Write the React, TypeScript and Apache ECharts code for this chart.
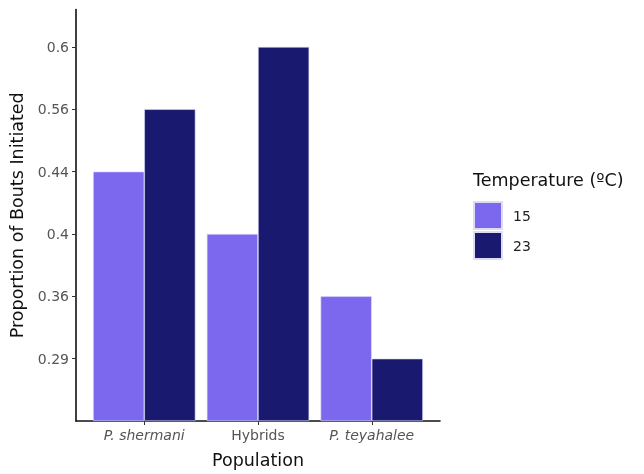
import React, { useEffect, useRef } from "react";
import * as echarts from "echarts";

const populations = ["P. shermani", "Hybrids", "P. teyahalee"];
const italicPop = [true, false, true];
const yLevels = [0.29, 0.36, 0.4, 0.44, 0.56, 0.6];
const temps = ["15", "23"];
const values15 = [0.44, 0.4, 0.36];
const values23 = [0.56, 0.6, 0.29];
const colors = ["#7B68EE", "#191970"];

const FONT = "DejaVu Sans";

export default function App() {
  const ref = useRef<HTMLDivElement>(null);
  useEffect(() => {
    if (!ref.current) return;
    const chart = echarts.init(ref.current, null, { renderer: "svg" });
    const toData = (vals: number[]) =>
      vals.map((v, i) => [i + 1, yLevels.indexOf(v) + 1]);
    const seriesVals = [values15, values23];
    chart.setOption({
      animation: false,
      textStyle: { fontFamily: FONT },
      title: {
        text: "Temperature (ºC)",
        left: 473,
        top: 171,
        padding: 0,
        textStyle: { fontSize: 17.5, fontWeight: "normal", color: "#111", fontFamily: FONT },
      },
      legend: {
        orient: "vertical",
        left: 473,
        top: 201,
        padding: 0,
        itemWidth: 28,
        itemHeight: 27,
        itemGap: 1,
        icon: "rect",
        data: temps,
        textStyle: { fontSize: 14, color: "#222", fontFamily: FONT, padding: [0, 0, 0, 6] },
      },
      grid: { left: 75, right: 204, top: 9.5, bottom: 52, containLabel: false },
      xAxis: {
        type: "value",
        min: 0.4,
        max: 3.6,
        name: "Population",
        nameLocation: "middle",
        nameGap: 30,
        nameTextStyle: { fontSize: 17.5, color: "#111", fontFamily: FONT },
        splitLine: { show: false },
        axisLine: { show: true, lineStyle: { color: "#111", width: 1.6 } },
        axisTick: { show: true, length: 4, lineStyle: { color: "#333" }, customValues: [1, 2, 3] },
        axisLabel: {
          customValues: [1, 2, 3],
          margin: 7,
          fontSize: 14,
          color: "#555",
          fontFamily: FONT,
          formatter: (v: number) => {
            const i = Math.round(v) - 1;
            return italicPop[i] ? `{i|${populations[i]}}` : populations[i];
          },
          rich: { i: { fontStyle: "italic", fontSize: 14, color: "#555", fontFamily: FONT } },
        },
      },
      yAxis: {
        type: "value",
        min: 0,
        max: 6.6,
        name: "Proportion of Bouts Initiated",
        nameLocation: "middle",
        nameGap: 50,
        nameTextStyle: { fontSize: 17.5, color: "#111", fontFamily: FONT },
        splitLine: { show: false },
        axisLine: { show: true, lineStyle: { color: "#111", width: 1.6 } },
        axisTick: { show: true, length: 4, lineStyle: { color: "#333" }, customValues: [1, 2, 3, 4, 5, 6] },
        axisLabel: {
          customValues: [1, 2, 3, 4, 5, 6],
          margin: 7,
          fontSize: 14,
          color: "#555",
          fontFamily: FONT,
          formatter: (v: number) => String(yLevels[Math.round(v) - 1]),
        },
      },
      series: temps.map((t, k) => ({
        name: t,
        type: "bar",
        data: toData(seriesVals[k]),
        barWidth: "45%",
        barGap: "0%",
        itemStyle: { color: colors[k], borderColor: "#dcdcf5", borderWidth: 0.6 },
      })),
    });
    return () => chart.dispose();
  }, []);
  return (
    <div
      ref={ref}
      style={{ position: "fixed", left: 0, top: 0, width: 644, height: 474 }}
    />
  );
}
